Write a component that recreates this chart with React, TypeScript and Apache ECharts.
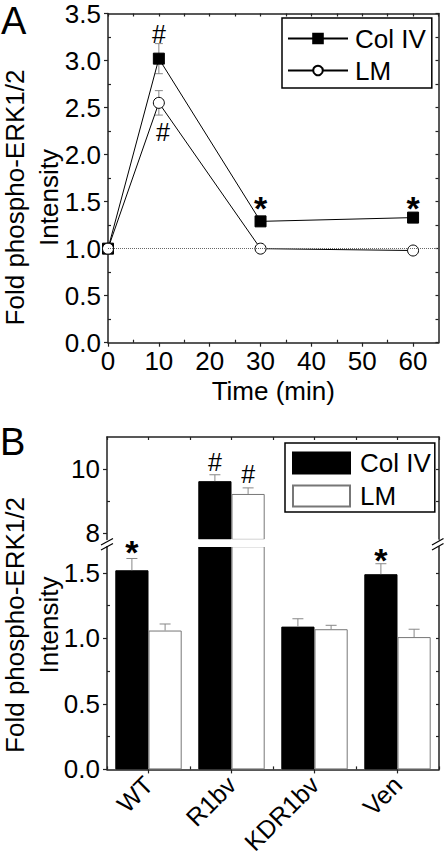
import React, { useEffect, useRef } from 'react';
import * as echarts from 'echarts';

const FONT = '"Liberation Sans", Arial, Helvetica, sans-serif';
const AX = '#222';

// ---------- Panel A data ----------
const timesA = [0, 10, 30, 60];
const colIVA = [1.0, 3.02, 1.29, 1.33];
const colIVErrA = [0, 0.16, 0.03, 0.03];
const lmA = [1.0, 2.55, 1.0, 0.98];
const lmErrA = [0, 0.13, 0.02, 0.02];
const xLabelsA = [0, 10, 20, 30, 40, 50, 60];
const xMinorA = [5, 15, 25, 35, 45, 55];
const yMinorA = [0.25, 0.75, 1.25, 1.75, 2.25, 2.75, 3.25];
const annotA = [
  { x: 10, y: 3.28, t: '#' },
  { x: 10.8, y: 2.24, t: '#' },
  { x: 30, y: 1.43, t: '*' },
  { x: 60, y: 1.43, t: '*' },
];

// ---------- Panel B data ----------
const catsB = ['WT', 'R1bv', 'KDR1bv', 'Ven'];
const colIVB = [1.52, 9.62, 1.09, 1.49];
const colIVErrB = [0.09, 0.2, 0.06, 0.08];
const lmB = [1.06, 9.22, 1.07, 1.01];
const lmErrB = [0.05, 0.19, 0.03, 0.06];
const yLabelsBLower = [0, 0.5, 1.0, 1.5];
const yMinorBLower = [0.25, 0.75, 1.25];
const yRightBLower = [0.25, 0.5, 0.75, 1.0, 1.25, 1.5];
const yLabelsBUpper = [8, 10];
const yMinorBUpper = [9];
const yRightBUpper = [9, 10];
const lowerMax = 1.7;
const upperMin = 7.8;
const upperMax = 11;
const annotB = [
  { cat: 0, side: 0, y: 1.66, t: '*' },
  { cat: 1, side: 0, y: 10.23, t: '#' },
  { cat: 1, side: 1, y: 9.85, t: '#' },
  { cat: 3, side: 0, y: 1.6, t: '*' },
];

const yTitleLines = ['Fold phospho-ERK1/2', 'Intensity'];

const FS = 26;
const labelStyle = { color: '#000', fontSize: FS, fontFamily: FONT, lineHeight: 20 };

function axis(base: any) {
  return {
    splitLine: { show: false },
    nameMoveOverlap: false,
    ...base,
    axisLine: { show: false, onZero: false, lineStyle: { color: AX, width: 1.5 }, ...(base.axisLine || {}) },
    axisTick: { show: false, lineStyle: { color: AX, width: 1.2 }, ...(base.axisTick || {}) },
    axisLabel: { show: false, ...labelStyle, ...(base.axisLabel || {}) },
  };
}

function textEl(x: number, y: number, t: string) {
  const star = t === '*';
  return {
    type: 'text',
    x,
    y,
    style: {
      text: t,
      fill: '#000',
      fontSize: star ? 34 : 25,
      fontWeight: star ? 'bold' : 'normal',
      fontFamily: FONT,
      align: 'center',
      verticalAlign: 'middle',
    },
  };
}

function errRenderA(color: string) {
  return (params: any, api: any) => {
    const x = api.value(0), y = api.value(1), e = api.value(2);
    const top = api.coord([x, y + e]);
    const bot = api.coord([x, y - e]);
    const hw = 4;
    const st = { stroke: color, lineWidth: 1 };
    return {
      type: 'group',
      children: [
        { type: 'line', shape: { x1: top[0], y1: top[1], x2: bot[0], y2: bot[1] }, style: st },
        { type: 'line', shape: { x1: top[0] - hw, y1: top[1], x2: top[0] + hw, y2: top[1] }, style: st },
        { type: 'line', shape: { x1: bot[0] - hw, y1: bot[1], x2: bot[0] + hw, y2: bot[1] }, style: st },
      ],
    };
  };
}

function errRenderB(params: any, api: any) {
  const c = api.value(0), v = api.value(1), e = api.value(2), side = api.value(3);
  const bw = api.size([1, 0])[0];
  const dx = (side === 0 ? -0.2 : 0.2) * bw;
  const p0 = api.coord([c, v]);
  const p1 = api.coord([c, v + e]);
  const x = p0[0] + dx;
  const hw = 5.5;
  const st = { stroke: '#888', lineWidth: 1 };
  return {
    type: 'group',
    children: [
      { type: 'line', shape: { x1: x, y1: p0[1], x2: x, y2: p1[1] }, style: st },
      { type: 'line', shape: { x1: x - hw, y1: p1[1], x2: x + hw, y2: p1[1] }, style: st },
    ],
  };
}

function buildErrB(filter: (v: number, e: number) => boolean) {
  const out: number[][] = [];
  catsB.forEach((_, i) => {
    if (filter(colIVB[i], colIVErrB[i])) out.push([i, colIVB[i], colIVErrB[i], 0]);
    if (filter(lmB[i], lmErrB[i])) out.push([i, lmB[i], lmErrB[i], 1]);
  });
  return out;
}

function yTitle(cy: number) {
  return yTitleLines.map((t, i) => ({
    type: 'text', x: 14.5 + i * 34, y: cy, rotation: Math.PI / 2, z: 20,
    style: {
      text: t, fontSize: FS, lineHeight: FS, fontFamily: FONT,
      fill: '#000', align: 'center', verticalAlign: 'middle',
    },
  }));
}

function buildOption() {
  const annBUpper = annotB.filter((a) => a.y >= upperMin);
  const annBLower = annotB.filter((a) => a.y < upperMin);
  const barCommon = { barGap: '0%', barCategoryGap: '20%', clip: true };
  const colStyle = { color: '#000', borderColor: '#000', borderWidth: 1 };
  const lmStyle = { color: '#fff', borderColor: '#777', borderWidth: 1 };

  return {
    animation: false,
    backgroundColor: '#fff',
    textStyle: { fontFamily: FONT },
    grid: [
      { left: 108, top: 13.5, width: 330.5, height: 329.2, outerBoundsMode: 'none' },
      { left: 107, top: 437, width: 332, height: 102.4, outerBoundsMode: 'none' },
      { left: 107, top: 546.7, width: 332, height: 222.7, outerBoundsMode: 'none' },
    ],
    legend: [
      {
        data: ['Col IV', 'LM'],
        left: 282,
        top: 18,
        orient: 'vertical',
        itemWidth: 60,
        itemHeight: 12,
        itemGap: 3,
        padding: [6, 6, 3, 5],
        borderColor: '#000',
        borderWidth: 1.5,
        selectedMode: false,
        textStyle: { fontSize: FS, color: '#000', fontFamily: FONT, lineHeight: 29, padding: [0, 0, 0, 2] },
      },
      {
        data: [
          { name: 'Col IV (B)', icon: 'rect' },
          { name: 'LM (B)', icon: 'rect' },
        ],
        formatter: (n: string) => n.replace(' (B)', ''),
        left: 285,
        top: 443,
        orient: 'vertical',
        itemWidth: 57,
        itemHeight: 21,
        itemGap: 7,
        padding: [7, 4, 3, 7],
        borderColor: '#000',
        borderWidth: 1.5,
        selectedMode: false,
        textStyle: { fontSize: FS, color: '#000', fontFamily: FONT, lineHeight: 26, padding: [0, 0, 0, 5] },
      },
    ],
    xAxis: [
      axis({
        type: 'value', gridIndex: 0, position: 'bottom', min: 0, max: 65,
        axisLine: { show: true },
        axisTick: { show: true, length: 4, customValues: xLabelsA },
        axisLabel: { show: true, margin: 8, customValues: xLabelsA },
        name: 'Time (min)', nameLocation: 'middle', nameGap: 37,
        nameTextStyle: { fontSize: FS, lineHeight: 22, color: '#000', fontFamily: FONT },
      }),
      axis({
        type: 'value', gridIndex: 0, position: 'bottom', min: 0, max: 65,
        axisTick: { show: true, inside: true, length: 3, customValues: xMinorA },
      }),
      axis({
        type: 'value', gridIndex: 0, position: 'top', min: 0, max: 65, interval: 5,
        axisLine: { show: true },
        axisTick: { show: true, inside: true, length: 3 },
      }),
      axis({
        type: 'category', gridIndex: 1, position: 'top', data: catsB,
        axisLine: { show: true },
        axisTick: { show: true, inside: true, length: 3, alignWithLabel: true, interval: 0 },
      }),
      axis({
        type: 'category', gridIndex: 1, position: 'top', data: catsB,
        axisTick: { show: true, inside: true, length: 3, interval: 0 },
      }),
      axis({
        type: 'category', gridIndex: 2, position: 'bottom', data: catsB,
        axisLine: { show: true },
        axisTick: { show: true, length: 4, alignWithLabel: true, interval: 0 },
        axisLabel: { show: true, rotate: 45, margin: 11, interval: 0, fontSize: 25 },
      }),
      axis({
        type: 'category', gridIndex: 2, position: 'bottom', data: catsB,
        axisTick: { show: true, inside: true, length: 3, interval: 0 },
      }),
    ],
    yAxis: [
      axis({
        type: 'value', gridIndex: 0, position: 'left', min: 0, max: 3.5, interval: 0.5,
        axisLine: { show: true },
        axisTick: { show: true, length: 4 },
        axisLabel: { show: true, margin: 7, formatter: (v: number) => v.toFixed(1) },
      }),
      axis({
        type: 'value', gridIndex: 0, position: 'left', min: 0, max: 3.5,
        axisTick: { show: true, inside: true, length: 3, customValues: yMinorA },
      }),
      axis({
        type: 'value', gridIndex: 0, position: 'right', min: 0, max: 3.5, interval: 0.25,
        axisLine: { show: true },
        axisTick: { show: true, inside: true, length: 3 },
      }),
      axis({
        type: 'value', gridIndex: 1, position: 'left', min: upperMin, max: upperMax,
        axisLine: { show: true },
        axisTick: { show: true, length: 4, customValues: yLabelsBUpper },
        axisLabel: { show: true, margin: 7, customValues: yLabelsBUpper, formatter: (v: number) => String(v) },
      }),
      axis({
        type: 'value', gridIndex: 1, position: 'left', min: upperMin, max: upperMax,
        axisTick: { show: true, inside: true, length: 3, customValues: yMinorBUpper },
      }),
      axis({
        type: 'value', gridIndex: 1, position: 'right', min: upperMin, max: upperMax,
        axisLine: { show: true },
        axisTick: { show: true, inside: true, length: 3, customValues: yRightBUpper },
      }),
      axis({
        type: 'value', gridIndex: 2, position: 'left', min: 0, max: lowerMax,
        axisLine: { show: true },
        axisTick: { show: true, length: 4, customValues: yLabelsBLower },
        axisLabel: { show: true, margin: 7, customValues: yLabelsBLower, formatter: (v: number) => v.toFixed(1) },
      }),
      axis({
        type: 'value', gridIndex: 2, position: 'left', min: 0, max: lowerMax,
        axisTick: { show: true, inside: true, length: 3, customValues: yMinorBLower },
      }),
      axis({
        type: 'value', gridIndex: 2, position: 'right', min: 0, max: lowerMax,
        axisLine: { show: true },
        axisTick: { show: true, inside: true, length: 3, customValues: yRightBLower },
      }),
    ],
    series: [
      // ---- Panel A ----
      {
        type: 'custom', name: 'errA-col', xAxisIndex: 0, yAxisIndex: 0, z: 1, silent: true,
        encode: { x: 0, y: 1 },
        data: timesA.map((t, i) => [t, colIVA[i], colIVErrA[i]]).filter((d) => d[2] > 0),
        renderItem: errRenderA('#888'),
      },
      {
        type: 'custom', name: 'errA-lm', xAxisIndex: 0, yAxisIndex: 0, z: 1, silent: true,
        encode: { x: 0, y: 1 },
        data: timesA.map((t, i) => [t, lmA[i], lmErrA[i]]).filter((d) => d[2] > 0),
        renderItem: errRenderA('#888'),
      },
      {
        type: 'line', name: 'Col IV', xAxisIndex: 0, yAxisIndex: 0, z: 3,
        data: timesA.map((t, i) => [t, colIVA[i]]),
        symbol: 'rect', symbolSize: 11,
        lineStyle: { color: '#000', width: 1 },
        itemStyle: { color: '#000', borderColor: '#000', borderWidth: 1 },
      },
      {
        type: 'line', name: 'LM', xAxisIndex: 0, yAxisIndex: 0, z: 4,
        data: timesA.map((t, i) => [t, lmA[i]]),
        symbol: 'circle', symbolSize: 11,
        lineStyle: { color: '#000', width: 1 },
        itemStyle: { color: '#fff', borderColor: '#000', borderWidth: 1 },
        markLine: {
          silent: true,
          symbol: ['none', 'none'],
          label: { show: false },
          lineStyle: { type: 'dotted', color: '#666', width: 1 },
          data: [{ yAxis: 1 }],
        },
      },
      {
        type: 'custom', name: 'annA', xAxisIndex: 0, yAxisIndex: 0, z: 10, silent: true,
        encode: { x: 0, y: 1 },
        data: annotA.map((a) => [a.x, a.y]),
        renderItem: (params: any, api: any) => {
          const p = api.coord([api.value(0), api.value(1)]);
          return textEl(p[0], p[1], annotA[params.dataIndex].t);
        },
      },
      // ---- Panel B upper ----
      {
        type: 'bar', name: 'Col IV (B)', xAxisIndex: 3, yAxisIndex: 3, ...barCommon,
        data: colIVB.map((v) => (v >= upperMin ? v : '-')),
        itemStyle: colStyle,
      },
      {
        type: 'bar', name: 'LM (B)', xAxisIndex: 3, yAxisIndex: 3, ...barCommon,
        data: lmB.map((v) => (v >= upperMin ? v : '-')),
        itemStyle: lmStyle,
      },
      // ---- Panel B lower ----
      {
        type: 'bar', name: 'Col IV (B)', xAxisIndex: 5, yAxisIndex: 6, ...barCommon,
        data: colIVB,
        itemStyle: colStyle,
      },
      {
        type: 'bar', name: 'LM (B)', xAxisIndex: 5, yAxisIndex: 6, ...barCommon,
        data: lmB,
        itemStyle: lmStyle,
      },
      {
        type: 'custom', name: 'errB-up', xAxisIndex: 3, yAxisIndex: 3, z: 3, silent: true,
        encode: { x: 0, y: 1 },
        data: buildErrB((v) => v >= upperMin),
        renderItem: errRenderB,
      },
      {
        type: 'custom', name: 'errB-low', xAxisIndex: 5, yAxisIndex: 6, z: 3, silent: true,
        encode: { x: 0, y: 1 },
        data: buildErrB((v, e) => v + e <= lowerMax),
        renderItem: errRenderB,
      },
      {
        type: 'custom', name: 'annB-up', xAxisIndex: 3, yAxisIndex: 3, z: 10, silent: true,
        encode: { x: 0, y: 1 },
        data: annBUpper.map((a) => [a.cat, a.y, a.side]),
        renderItem: (params: any, api: any) => {
          const p = api.coord([api.value(0), api.value(1)]);
          const bw = api.size([1, 0])[0];
          const dx = (api.value(2) === 0 ? -0.2 : 0.2) * bw;
          return textEl(p[0] + dx, p[1], annBUpper[params.dataIndex].t);
        },
      },
      {
        type: 'custom', name: 'annB-low', xAxisIndex: 5, yAxisIndex: 6, z: 10, silent: true,
        encode: { x: 0, y: 1 },
        data: annBLower.map((a) => [a.cat, a.y, a.side]),
        renderItem: (params: any, api: any) => {
          const p = api.coord([api.value(0), api.value(1)]);
          const bw = api.size([1, 0])[0];
          const dx = (api.value(2) === 0 ? -0.2 : 0.2) * bw;
          return textEl(p[0] + dx, p[1], annBLower[params.dataIndex].t);
        },
      },
    ],
    graphic: [
      {
        type: 'rect', z: 5, silent: true,
        shape: { x: 108, y: 539.2, width: 330.5, height: 7.9 },
        style: { fill: '#fff' },
      },
      { type: 'line', z: 20, shape: { x1: 101, y1: 545, x2: 113, y2: 538.5 }, style: { stroke: '#000', lineWidth: 1.2 } },
      { type: 'line', z: 20, shape: { x1: 101, y1: 550, x2: 113, y2: 543.5 }, style: { stroke: '#000', lineWidth: 1.2 } },
      { type: 'line', z: 20, shape: { x1: 432, y1: 545, x2: 443.5, y2: 538.5 }, style: { stroke: '#000', lineWidth: 1.2 } },
      { type: 'line', z: 20, shape: { x1: 432, y1: 550, x2: 443.5, y2: 543.5 }, style: { stroke: '#000', lineWidth: 1.2 } },
      {
        type: 'text', x: 1, y: 0, z: 20,
        style: { text: 'A', fontSize: 38, lineHeight: 42, fontFamily: FONT, fill: '#000', verticalAlign: 'top' },
      },
      {
        type: 'text', x: 0, y: 427, z: 20,
        style: { text: 'B', fontSize: 38, lineHeight: 30, fontFamily: FONT, fill: '#000', verticalAlign: 'top' },
      },
      ...yTitle(197.5),
      ...yTitle(625),
    ],
  };
}

export default function App() {
  const ref = useRef<HTMLDivElement>(null);
  useEffect(() => {
    if (!ref.current) return;
    const chart = echarts.init(ref.current, null, { renderer: 'svg' });
    chart.setOption(buildOption() as any);
    return () => chart.dispose();
  }, []);
  return (
    <div
      ref={ref}
      style={{ position: 'fixed', left: 0, top: 0, width: 444, height: 860, background: '#fff' }}
    />
  );
}
